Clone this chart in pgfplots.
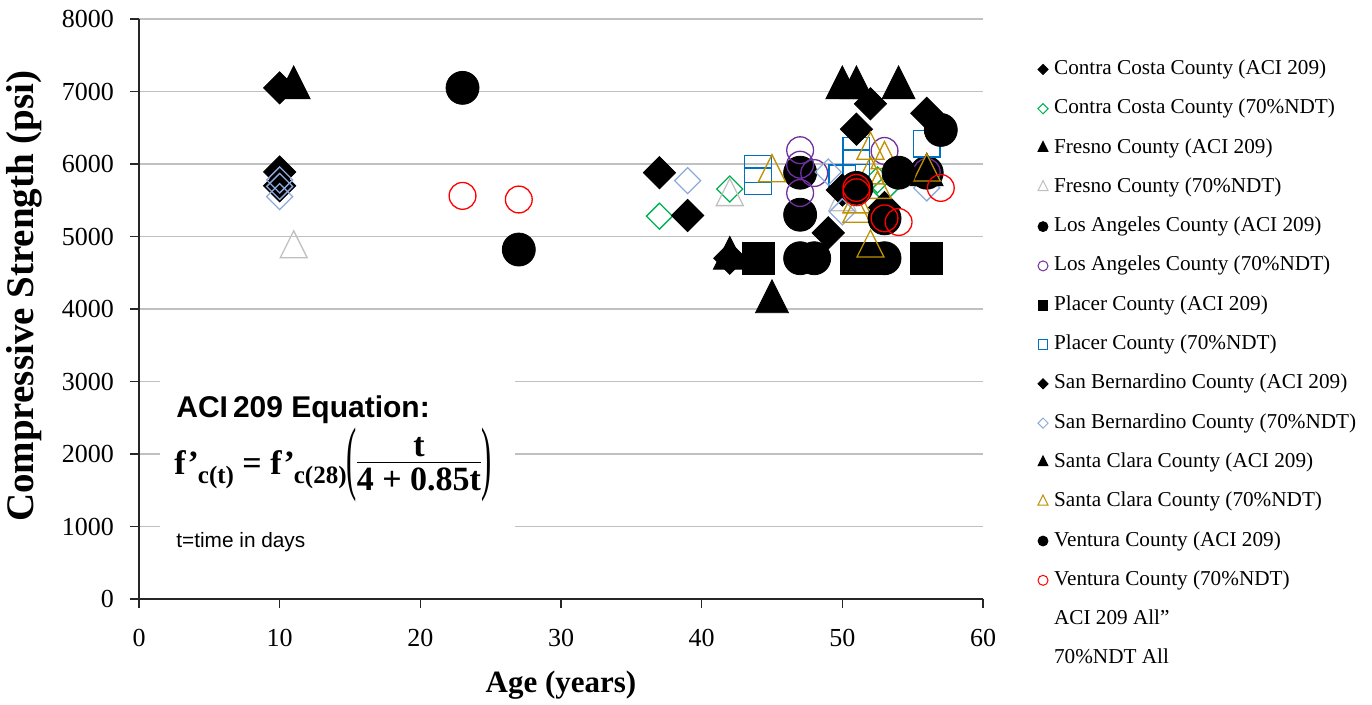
\documentclass[border=0pt]{standalone}
\usepackage{fontspec}
\setmainfont{Liberation Serif}
\newfontfamily\arial{Liberation Sans}
\usepackage{graphicx}
\usepackage{pgfplots}
\pgfplotsset{compat=1.18}
\definecolor{cgreen}{HTML}{00B050}
\definecolor{cgray}{HTML}{BFBFBF}
\definecolor{cpurple}{HTML}{7030A0}
\definecolor{cblue}{HTML}{0070C0}
\definecolor{clblue}{HTML}{8EA9DB}
\definecolor{cgold}{HTML}{BF9000}
\definecolor{cred}{HTML}{FF0000}
\definecolor{cgrid}{HTML}{C0C0C0}
\definecolor{caxis}{HTML}{262626}
\begin{document}
\begin{tikzpicture}
\begin{axis}[
 name=ax,
 scale only axis, width=422pt, height=290pt,
 xmin=0, xmax=60, ymin=0, ymax=8000,
 xtick={0,10,...,60}, ytick={0,1000,...,8000},
 axis x line*=bottom, axis y line*=left,
 axis line style={caxis, line width=0.6pt},
 ymajorgrids, grid style={cgrid, line width=0.75pt},
 tick align=outside, major tick length=4.3pt,
 tick style={caxis, line width=0.6pt},
 /pgf/number format/1000 sep={},
 /pgf/number format/assume math mode=true,
 tick label style={font=\fontsize{13}{15}\selectfont},
 xticklabel style={yshift=-7.2pt},
 yticklabel style={xshift=-4.7pt},
 xlabel style={at={(axis description cs:0.5,-0.148)}, anchor=center, font=\fontsize{15.5}{18}\selectfont\bfseries},
 ylabel style={at={(axis description cs:-0.136,0.522)}, anchor=center, font=\fontsize{19.5}{22}\selectfont\bfseries},
 xlabel={Age (years)},
 ylabel={Compressive Strength (psi)},
 legend cell align=left,
 legend style={at={(1.0646,0.931)}, anchor=north west, draw=none, fill=none, inner sep=0pt,
   row sep=9.65pt, column sep=3pt, font=\fontsize{10.6}{12}\selectfont,
   nodes={inner xsep=0pt, inner ysep=0pt, text height=7.5pt, text depth=2.5pt}},
]
\addplot[forget plot, only marks, mark=square*, mark size=5.7pt, mark options={rotate=45,fill=black,draw=black}] coordinates {(10,7050) (37,5880) (42,4700) (52,6830)};
\addplot[forget plot, only marks, mark=square, mark size=4.6pt, mark options={rotate=45,draw=cgreen,line width=0.65pt}] coordinates {(37,5280) (42,5655) (52.5,5780) (53,5650)};
\addplot[forget plot, only marks, mark=triangle*, mark size=9.5pt, mark options={yscale=1.155,fill=black,draw=black}] coordinates {(11,7050) (42,4700) (50,7050)};
\addplot[forget plot, only marks, mark=triangle, mark size=7.8pt, mark options={yscale=1.155,draw=cgray,line width=0.65pt}] coordinates {(11,4830) (42,5550) (50,5480)};
\addplot[forget plot, only marks, mark=*, mark size=8.25pt, mark options={fill=black,draw=black}] coordinates {(47,5880) (47,5300) (47,4700) (48,4700) (53,4700) (56,5880)};
\addplot[forget plot, only marks, mark=o, mark size=6.7pt, mark options={draw=cpurple,line width=0.65pt}] coordinates {(47,6190) (47,5990) (48,5875) (47,5600) (53,6180) (56,5890)};
\addplot[forget plot, only marks, mark=square*, mark size=8pt, mark options={fill=black,draw=black}] coordinates {(44,4700) (51,4700) (52,4700) (56,4700)};
\addplot[forget plot, only marks, mark=square, mark size=6.7pt, mark options={draw=cblue,line width=0.65pt}] coordinates {(44,5930) (44,5760) (51,6180) (51,6010) (50,5800) (56,6280)};
\addplot[forget plot, only marks, mark=square*, mark size=5.7pt, mark options={rotate=45,fill=black,draw=black}] coordinates {(10,5890) (10,5700) (39,5290) (49,5050) (50,5640) (51,6480) (53,5400) (56,6700)};
\addplot[forget plot, only marks, mark=square, mark size=4.6pt, mark options={rotate=45,draw=clblue,line width=0.65pt}] coordinates {(10,5780) (10,5690) (10,5550) (39,5770) (49,5890) (50,5340) (56,5670)};
\addplot[forget plot, only marks, mark=triangle*, mark size=9.5pt, mark options={yscale=1.155,fill=black,draw=black}] coordinates {(45,4100) (51,7050) (54,7050) (56,5850)};
\addplot[forget plot, only marks, mark=triangle, mark size=7.8pt, mark options={yscale=1.155,draw=cgold,line width=0.65pt}] coordinates {(45,5880) (52,6190) (53,6060) (52,5850) (52.5,5650) (51,5450) (51,5320) (52,4840) (56,5890)};
\addplot[forget plot, only marks, mark=*, mark size=8.25pt, mark options={fill=black,draw=black}] coordinates {(23,7050) (27,4820) (51,5670) (53,5250) (54,5880) (57,6470)};
\addplot[forget plot, only marks, mark=o, mark size=6.7pt, mark options={draw=cred,line width=0.65pt}] coordinates {(23,5560) (27,5510) (51,5670) (51,5610) (53,5250) (54,5200) (57,5670)};
\addlegendimage{only marks, mark=square*, mark size=1.8pt, mark options={rotate=45,fill=black,draw=black}}
\addlegendentry{Contra Costa County (ACI 209)}
\addlegendimage{only marks, mark=square, mark size=1.8pt, mark options={rotate=45,draw=cgreen,line width=0.5pt}}
\addlegendentry{Contra Costa County (70\%NDT)}
\addlegendimage{only marks, mark=triangle*, mark size=2.9pt, mark options={yscale=1.155,fill=black,draw=black}}
\addlegendentry{Fresno County (ACI 209)}
\addlegendimage{only marks, mark=triangle, mark size=2.9pt, mark options={yscale=1.155,draw=cgray,line width=0.5pt}}
\addlegendentry{Fresno County (70\%NDT)}
\addlegendimage{only marks, mark=*, mark size=2.5pt, mark options={fill=black,draw=black}}
\addlegendentry{Los Angeles County (ACI 209)}
\addlegendimage{only marks, mark=o, mark size=2.5pt, mark options={draw=cpurple,line width=0.5pt}}
\addlegendentry{Los Angeles County (70\%NDT)}
\addlegendimage{only marks, mark=square*, mark size=2.4pt, mark options={fill=black,draw=black}}
\addlegendentry{Placer County (ACI 209)}
\addlegendimage{only marks, mark=square, mark size=2.4pt, mark options={draw=cblue,line width=0.5pt}}
\addlegendentry{Placer County (70\%NDT)}
\addlegendimage{only marks, mark=square*, mark size=1.8pt, mark options={rotate=45,fill=black,draw=black}}
\addlegendentry{San Bernardino County (ACI 209)}
\addlegendimage{only marks, mark=square, mark size=1.8pt, mark options={rotate=45,draw=clblue,line width=0.5pt}}
\addlegendentry{San Bernardino County (70\%NDT)}
\addlegendimage{only marks, mark=triangle*, mark size=2.9pt, mark options={yscale=1.155,fill=black,draw=black}}
\addlegendentry{Santa Clara County (ACI 209)}
\addlegendimage{only marks, mark=triangle, mark size=2.9pt, mark options={yscale=1.155,draw=cgold,line width=0.5pt}}
\addlegendentry{Santa Clara County (70\%NDT)}
\addlegendimage{only marks, mark=*, mark size=2.5pt, mark options={fill=black,draw=black}}
\addlegendentry{Ventura County (ACI 209)}
\addlegendimage{only marks, mark=o, mark size=2.5pt, mark options={draw=cred,line width=0.5pt}}
\addlegendentry{Ventura County (70\%NDT)}
\addlegendimage{only marks, mark=*, mark size=2.5pt, mark options={opacity=0}}
\addlegendentry{ACI 209 All"}
\addlegendimage{only marks, mark=*, mark size=2.5pt, mark options={opacity=0}}
\addlegendentry{70\%NDT All}
\end{axis}
\fill[white] ([shift={(10.5pt,19.5pt)}]ax.south west) rectangle ([shift={(188pt,113.5pt)}]ax.south west);
\node[anchor=west, inner sep=0pt, font=\arial\bfseries\fontsize{15}{17}\selectfont] at ([shift={(18.5pt,94.5pt)}]ax.south west) {ACI\,209 Equation:};
\node[anchor=west, inner sep=0pt, font=\fontsize{17}{19}\selectfont\bfseries] at ([shift={(17.5pt,67pt)}]ax.south west) {f'\kern-0.5pt\raisebox{-0.6ex}{\fontsize{12.5}{14}\selectfont c(t)}\ =\ f'\kern-0.5pt\raisebox{-0.6ex}{\fontsize{12.5}{14}\selectfont c(28)}\raisebox{-5pt}{\scalebox{0.9}[2.4]{\mdseries(}}\begin{tabular}{@{}c@{}}t\\[-3pt]\hline\rule{0pt}{14pt}4 + 0.85t\end{tabular}\raisebox{-5pt}{\scalebox{0.9}[2.4]{\mdseries)}}};
\node[anchor=west, inner sep=0pt, font=\arial\fontsize{10.4}{12}\selectfont] at ([shift={(18.5pt,28.5pt)}]ax.south west) {t=time in days};
\pgfresetboundingbox
\path ([shift={(-69.5pt,-53pt)}]ax.south west) rectangle ([shift={(194.5pt,9.5pt)}]ax.north east);
\end{tikzpicture}
\end{document}
